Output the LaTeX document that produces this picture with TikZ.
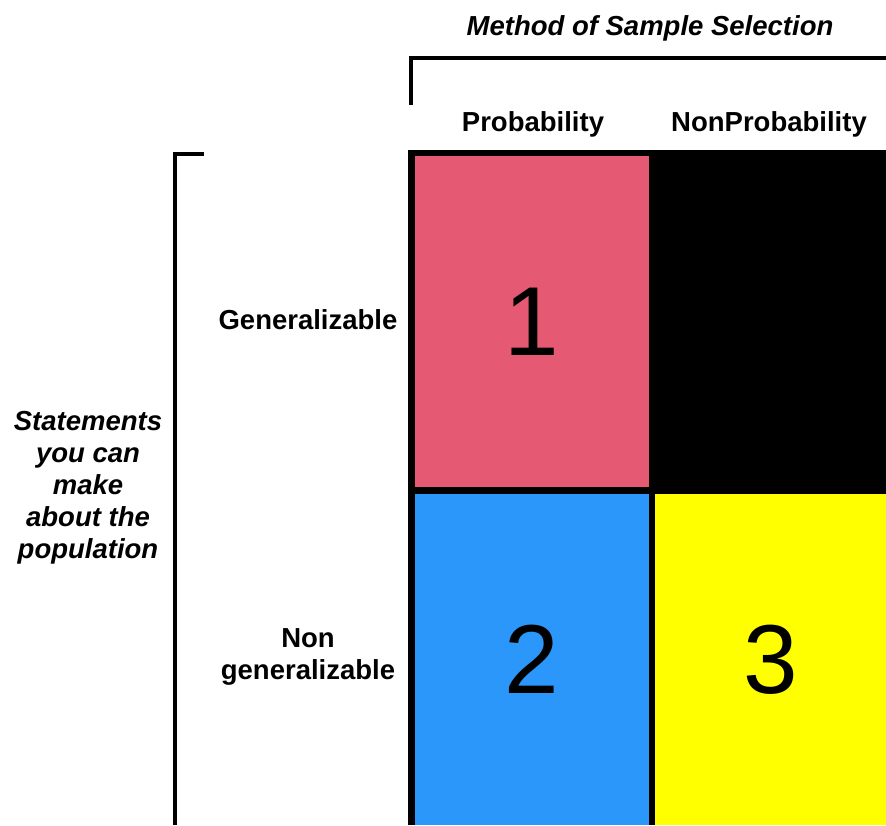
\documentclass[tikz,border=0pt]{standalone}
\usepackage{fontspec}
\setmainfont{Liberation Sans}
\usepackage{tikz}

\definecolor{cellpink}{RGB}{229,90,114}
\definecolor{cellblue}{RGB}{44,151,250}
\definecolor{cellyellow}{RGB}{255,255,0}

\tikzset{
  cell/.style={draw=none,inner sep=0pt,minimum width=234pt,minimum height=331pt,
    font=\fontsize{98}{98}\selectfont},
  head/.style={font=\fontsize{27.5}{32}\selectfont\bfseries},
  title/.style={font=\fontsize{27.5}{32}\selectfont\bfseries\itshape,align=center},
  bracket/.style={line width=4pt}
}

\begin{document}
\begin{tikzpicture}[x=1pt,y=-1pt]
  \useasboundingbox (0,0) rectangle (886,825);

  % frame of the table
  \fill[black] (408,150) rectangle (886,825);

  \node[cell,fill=cellpink] (one) at (532,321.5) {1};
  \node[cell,fill=black] (empty) at (767.5,321.5) {};
  \node[cell,fill=cellblue] (two) at (532,659.5) {2};
  \node[cell,fill=cellyellow,minimum width=231pt] (three) at (770.5,659.5) {3};

  % column heads
  \node[title] (method) at (650,28) {Method of Sample Selection};
  \node[head] (prob) at (533,124) {Probability};
  \node[head] (nonprob) at (769,124) {NonProbability};

  % row heads
  \node[head] (gen) at (308,320) {Generalizable};
  \node[head,align=center] (nongen) at (308,657) {Non\\generalizable};
  \node[title] (stmt) at (88,488) {Statements\\you can\\make\\about the\\population};

  % brackets
  \coordinate (topleft) at (411,105);
  \coordinate (topcorner) at (411,58);
  \coordinate (topright) at (886,58);
  \draw[bracket] (topleft) -- (topcorner) -- (topright);

  \coordinate (sidetop) at (204,153.5);
  \coordinate (sidecorner) at (175,153.5);
  \coordinate (sidebottom) at (175,825);
  \draw[bracket] (sidetop) -- (sidecorner) -- (sidebottom);
\end{tikzpicture}
\end{document}
